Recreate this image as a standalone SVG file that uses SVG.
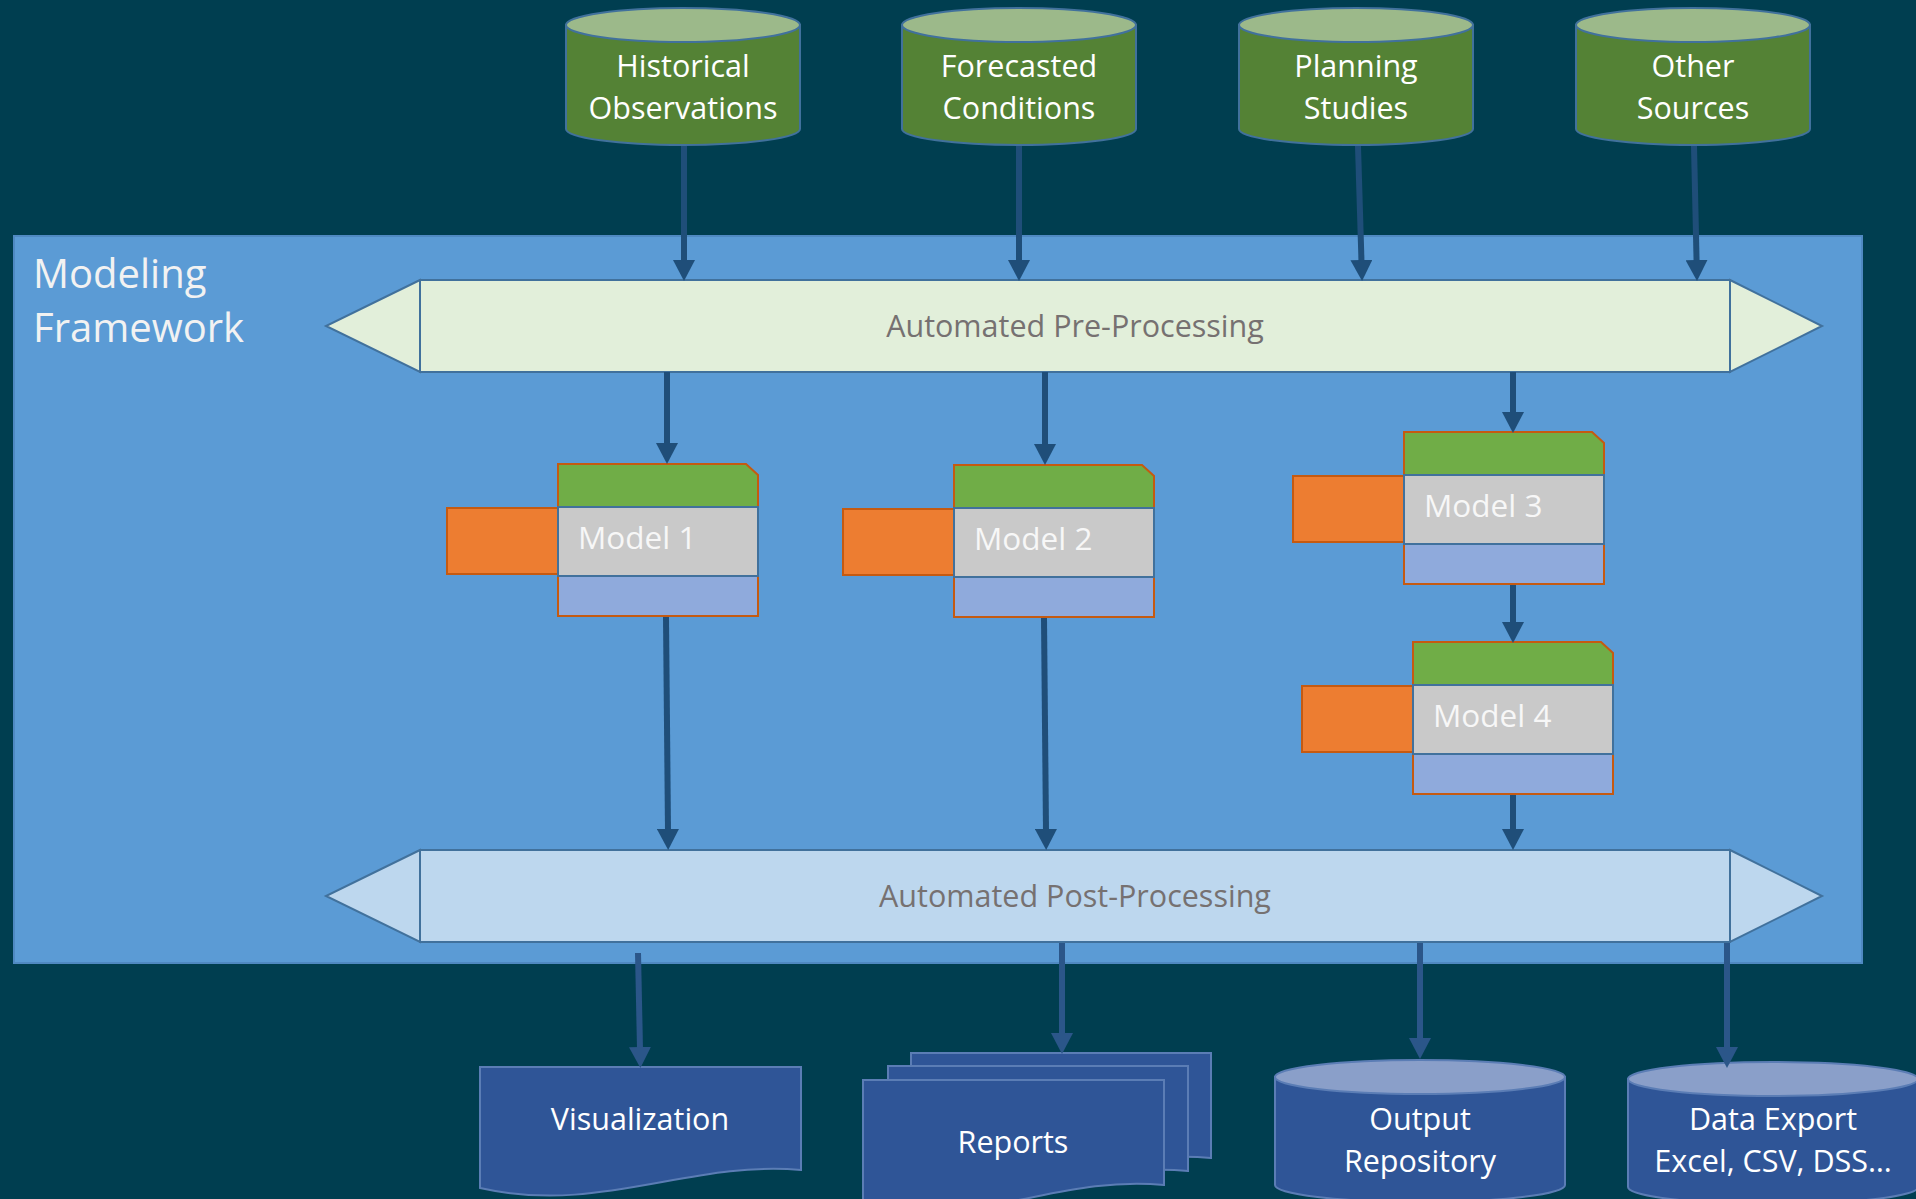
<svg xmlns="http://www.w3.org/2000/svg" width="1916" height="1199" viewBox="0 0 1916 1199">
<defs>
<style>
.t{font-family:"Open Sans","Noto Sans","Liberation Sans",sans-serif;}
.cyl-g{fill:#548235;stroke:#41719C;stroke-width:2}
.cyl-gt{fill:#9CB98A;stroke:#41719C;stroke-width:2}
.cyl-b{fill:#2F5597;stroke:#5B7DB5;stroke-width:2}
.cyl-bt{fill:#8A9FC9;stroke:#5B7DB5;stroke-width:2}
.lbl{fill:#FFFFFF;font-size:30.5px;text-anchor:middle}
.mlbl{fill:#F7F7F7;font-size:31.5px}
.green{fill:#70AD47;stroke:#C55A11;stroke-width:2}
.gray{fill:#C9C9C9;stroke:#41719C;stroke-width:2}
.blue{fill:#8FAADC;stroke:#C55A11;stroke-width:2}
.orange{fill:#ED7D31;stroke:#C55A11;stroke-width:2}
.doc{fill:#2F5597;stroke:#5B7DB5;stroke-width:2}
.conn{stroke:#1F4E79;stroke-width:6;fill:none;marker-end:url(#ah)}
.conn2{stroke:#2B5689;stroke-width:6;fill:none;marker-end:url(#ah2)}
.proc{font-size:30.5px;fill:#767171;text-anchor:middle}
</style>
<marker id="ah" markerUnits="userSpaceOnUse" markerWidth="22" markerHeight="22" refX="2" refY="11" orient="auto">
<path d="M0,0 L21,11 L0,22 Z" fill="#1F4E79"/>
</marker>
<marker id="ah2" markerUnits="userSpaceOnUse" markerWidth="22" markerHeight="22" refX="2" refY="11" orient="auto">
<path d="M0,0 L21,11 L0,22 Z" fill="#2B5689"/>
</marker>
</defs>
<rect x="0" y="0" width="1916" height="1199" fill="#003E50"/>

<g id="framework">
<rect x="14" y="236" width="1848" height="727" fill="#5B9BD5" stroke="#4F89C2" stroke-width="2"/>
<text class="t" x="33" y="288" font-size="40" fill="#F2F2F2">Modeling</text>
<text class="t" x="33" y="342" font-size="40" fill="#F2F2F2">Framework</text>
</g>

<g id="pre-processing">
<path d="M420,280 L326,326 L420,372 Z" fill="#E2EFDA" stroke="#41719C" stroke-width="2"/>
<path d="M1730,280 L1822,326 L1730,372 Z" fill="#E2EFDA" stroke="#41719C" stroke-width="2"/>
<rect x="420" y="280" width="1310" height="92" fill="#E2EFDA" stroke="#41719C" stroke-width="2"/>
<text class="t proc" x="1075" y="337">Automated Pre-Processing</text>
</g>

<g id="post-processing">
<path d="M420,850 L326,896 L420,942 Z" fill="#BDD7EE" stroke="#41719C" stroke-width="2"/>
<path d="M1730,850 L1822,896 L1730,942 Z" fill="#BDD7EE" stroke="#41719C" stroke-width="2"/>
<rect x="420" y="850" width="1310" height="92" fill="#BDD7EE" stroke="#41719C" stroke-width="2"/>
<text class="t proc" x="1075" y="907">Automated Post-Processing</text>
</g>

<g id="src-historical">
<path class="cyl-g" d="M566,25 V129 A117,16 0 0 0 800,129 V25 Z"/>
<ellipse class="cyl-gt" cx="683" cy="25" rx="117" ry="17"/>
<text class="t lbl" x="683" y="77">Historical</text>
<text class="t lbl" x="683" y="119">Observations</text>
</g>
<g id="src-forecasted">
<path class="cyl-g" d="M902,25 V129 A117,16 0 0 0 1136,129 V25 Z"/>
<ellipse class="cyl-gt" cx="1019" cy="25" rx="117" ry="17"/>
<text class="t lbl" x="1019" y="77">Forecasted</text>
<text class="t lbl" x="1019" y="119">Conditions</text>
</g>
<g id="src-planning">
<path class="cyl-g" d="M1239,25 V129 A117,16 0 0 0 1473,129 V25 Z"/>
<ellipse class="cyl-gt" cx="1356" cy="25" rx="117" ry="17"/>
<text class="t lbl" x="1356" y="77">Planning</text>
<text class="t lbl" x="1356" y="119">Studies</text>
</g>
<g id="src-other">
<path class="cyl-g" d="M1576,25 V129 A117,16 0 0 0 1810,129 V25 Z"/>
<ellipse class="cyl-gt" cx="1693" cy="25" rx="117" ry="17"/>
<text class="t lbl" x="1693" y="77">Other</text>
<text class="t lbl" x="1693" y="119">Sources</text>
</g>

<g id="model-1" transform="translate(558,464)">
<rect class="orange" x="-111" y="44" width="111" height="66"/>
<path class="green" d="M0,0 H188 L200,11 V43 H0 Z"/>
<rect class="blue" x="0" y="112" width="200" height="40"/>
<rect class="gray" x="0" y="43" width="200" height="69"/>
<text class="t mlbl" x="20" y="85">Model 1</text>
</g>
<g id="model-2" transform="translate(954,465)">
<rect class="orange" x="-111" y="44" width="111" height="66"/>
<path class="green" d="M0,0 H188 L200,11 V43 H0 Z"/>
<rect class="blue" x="0" y="112" width="200" height="40"/>
<rect class="gray" x="0" y="43" width="200" height="69"/>
<text class="t mlbl" x="20" y="85">Model 2</text>
</g>
<g id="model-3" transform="translate(1404,432)">
<rect class="orange" x="-111" y="44" width="111" height="66"/>
<path class="green" d="M0,0 H188 L200,11 V43 H0 Z"/>
<rect class="blue" x="0" y="112" width="200" height="40"/>
<rect class="gray" x="0" y="43" width="200" height="69"/>
<text class="t mlbl" x="20" y="85">Model 3</text>
</g>
<g id="model-4" transform="translate(1413,642)">
<rect class="orange" x="-111" y="44" width="111" height="66"/>
<path class="green" d="M0,0 H188 L200,11 V43 H0 Z"/>
<rect class="blue" x="0" y="112" width="200" height="40"/>
<rect class="gray" x="0" y="43" width="200" height="69"/>
<text class="t mlbl" x="20" y="85">Model 4</text>
</g>

<g id="out-visualization">
<path class="doc" d="M480,1067 H801 V1170 C690,1160 600,1215 480,1188 Z"/>
<text class="t lbl" x="640" y="1130">Visualization</text>
</g>
<g id="out-reports">
<path class="doc" d="M911,1053 H1211 V1158 C1100,1148 1031,1203 911,1176 Z"/>
<path class="doc" d="M888,1066 H1188 V1171 C1077,1161 1008,1216 888,1189 Z"/>
<path class="doc" d="M863,1080 H1164 V1185 C1053,1175 983,1230 863,1203 Z"/>
<text class="t lbl" x="1013" y="1153">Reports</text>
</g>
<g id="out-repository">
<path class="cyl-b" d="M1275,1077 V1185 A145,17 0 0 0 1565,1185 V1077 Z"/>
<ellipse class="cyl-bt" cx="1420" cy="1077" rx="145" ry="17"/>
<text class="t lbl" x="1420" y="1130">Output</text>
<text class="t lbl" x="1420" y="1172">Repository</text>
</g>
<g id="out-export">
<path class="cyl-b" d="M1628,1079 V1187 A145,17 0 0 0 1918,1187 V1079 Z"/>
<ellipse class="cyl-bt" cx="1773" cy="1079" rx="145" ry="17"/>
<text class="t lbl" x="1773" y="1130">Data Export</text>
<text class="t lbl" x="1773" y="1172">Excel, CSV, DSS…</text>
</g>

<g id="connectors">
<line class="conn" x1="684" y1="146" x2="684" y2="262"/>
<line class="conn" x1="1019" y1="146" x2="1019" y2="262"/>
<line class="conn" x1="1358" y1="146" x2="1361.5" y2="262"/>
<line class="conn" x1="1694" y1="146" x2="1696.6" y2="262"/>
<line class="conn" x1="667" y1="372" x2="667" y2="445"/>
<line class="conn" x1="1045" y1="372" x2="1045" y2="446"/>
<line class="conn" x1="1513" y1="372" x2="1513" y2="414"/>
<line class="conn" x1="1513" y1="585" x2="1513" y2="624"/>
<line class="conn" x1="666" y1="617" x2="668" y2="831"/>
<line class="conn" x1="1044" y1="618" x2="1046" y2="831"/>
<line class="conn" x1="1513" y1="795" x2="1513" y2="831"/>
<line class="conn2" x1="638" y1="953" x2="640" y2="1049"/>
<line class="conn2" x1="1062" y1="943" x2="1062" y2="1035"/>
<line class="conn2" x1="1420" y1="943" x2="1420" y2="1040"/>
<line class="conn2" x1="1727" y1="943" x2="1727" y2="1049"/>
</g>
</svg>
